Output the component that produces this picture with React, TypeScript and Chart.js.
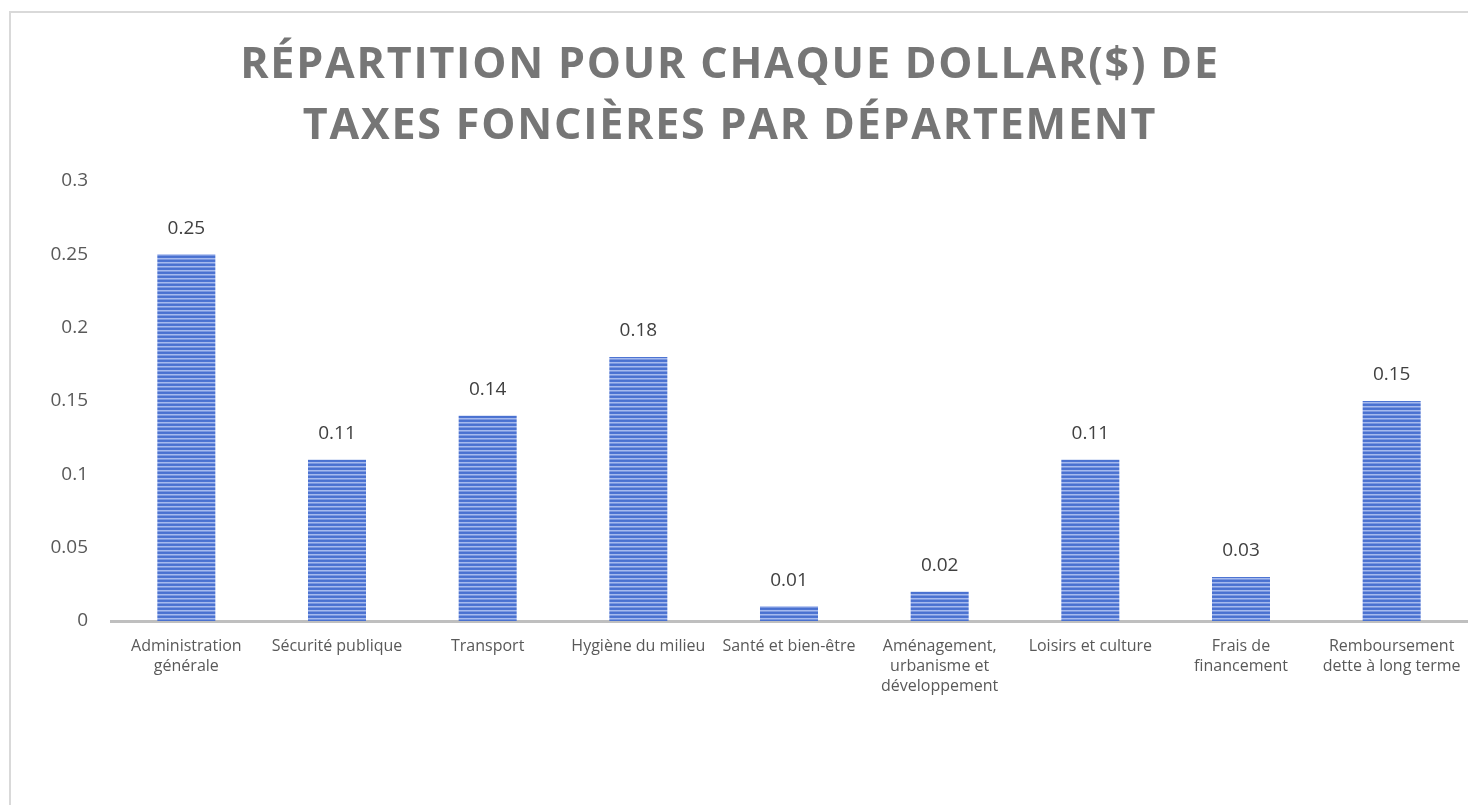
import React, { useEffect, useRef } from "react";
import { Chart, registerables } from "chart.js";

Chart.register(...registerables);

const categories: (string | string[])[] = [
  ["Administration", "générale"],
  "Sécurité publique",
  "Transport",
  "Hygiène du milieu",
  "Santé et bien-être",
  ["Aménagement,", "urbanisme et", "développement"],
  "Loisirs et culture",
  ["Frais de", "financement"],
  ["Remboursement", "dette à long terme"],
];
const values = [0.25, 0.11, 0.14, 0.18, 0.01, 0.02, 0.11, 0.03, 0.15];
const titleLines = ["RÉPARTITION POUR CHAQUE DOLLAR($) DE", "TAXES FONCIÈRES PAR DÉPARTEMENT"];
const yMin = 0;
const yMax = 0.3;
const yStep = 0.05;

const FONT = '"Open Sans", "DejaVu Sans", sans-serif';

function makePattern(): CanvasPattern | string {
  const c = document.createElement("canvas");
  c.width = 4;
  c.height = 4;
  const g = c.getContext("2d");
  if (!g) return "#4472c4";
  const rows = ["#4a71d0", "#4d74d2", "#a6baee", "#7a97e0"];
  rows.forEach((col, i) => {
    g.fillStyle = col;
    g.fillRect(0, i, 4, 1);
  });
  const ctx = document.createElement("canvas").getContext("2d");
  const p = ctx ? ctx.createPattern(c, "repeat") : null;
  return p || "#4472c4";
}

const titlePlugin = {
  id: "customTitle",
  afterDraw(chart: any) {
    const ctx = chart.ctx as CanvasRenderingContext2D;
    ctx.save();
    ctx.font = `bold 43px ${FONT}`;
    ctx.fillStyle = "#767676";
    ctx.textAlign = "center";
    ctx.textBaseline = "middle";
    (ctx as any).letterSpacing = "1.8px";
    const cx = 730;
    titleLines.forEach((line, i) => {
      ctx.fillText(line, cx, 66 + i * 61);
    });
    ctx.restore();
  },
};

const valueLabelPlugin = {
  id: "valueLabels",
  afterDatasetsDraw(chart: any) {
    const ctx = chart.ctx as CanvasRenderingContext2D;
    const meta = chart.getDatasetMeta(0);
    ctx.save();
    ctx.font = `19px ${FONT}`;
    ctx.fillStyle = "#404040";
    ctx.textAlign = "center";
    ctx.textBaseline = "middle";
    meta.data.forEach((bar: any, i: number) => {
      ctx.fillText(String(values[i]), bar.x, bar.y - 26);
    });
    ctx.restore();
  },
};

export default function App() {
  const ref = useRef<HTMLCanvasElement>(null);

  useEffect(() => {
    if (!ref.current) return;
    const pattern = makePattern();
    const chart = new Chart(ref.current, {
      type: "bar",
      data: {
        labels: categories,
        datasets: [
          {
            data: values,
            backgroundColor: pattern as any,
            borderWidth: 0,
            barPercentage: 0.385,
            categoryPercentage: 1,
          },
        ],
      },
      options: {
        animation: false,
        responsive: true,
        maintainAspectRatio: false,
        events: [],
        layout: { padding: { top: 181, left: 0, right: 1, bottom: 0 } },
        plugins: {
          legend: { display: false },
          title: { display: false },
          tooltip: { enabled: false },
        },
        scales: {
          x: {
            grid: { display: false, drawTicks: false },
            border: { display: true, color: "#bfbfbf", width: 3 },
            ticks: {
              color: "#595959",
              font: { family: FONT, size: 16, lineHeight: 1.25 },
              padding: 15,
              maxRotation: 0,
              minRotation: 0,
              autoSkip: false,
            },
            afterFit(scale: any) {
              scale.height = 184;
              scale.paddingLeft = 0;
              scale.paddingRight = 0;
            },
          },
          y: {
            min: yMin,
            max: yMax,
            grid: { display: false, drawTicks: false },
            border: { display: false },
            ticks: {
              stepSize: yStep,
              color: "#595959",
              font: { family: FONT, size: 19 },
              padding: 23,
              callback: (v: any) => String(parseFloat(Number(v).toFixed(2))),
            },
            afterFit(scale: any) {
              scale.width = 111;
            },
          },
        },
      },
      plugins: [titlePlugin, valueLabelPlugin],
    });
    return () => chart.destroy();
  }, []);

  return (
    <div style={{ position: "fixed", left: 0, top: 0, width: 1468, height: 805, background: "#ffffff", overflow: "hidden" }}>
      <div
        style={{
          position: "absolute",
          left: 9,
          top: 11,
          width: 1500,
          height: 900,
          border: "2px solid #d9d9d9",
          boxSizing: "border-box",
        }}
      />
      <div style={{ position: "absolute", left: 0, top: 0, width: 1468, height: 805 }}>
        <canvas ref={ref} />
      </div>
    </div>
  );
}
